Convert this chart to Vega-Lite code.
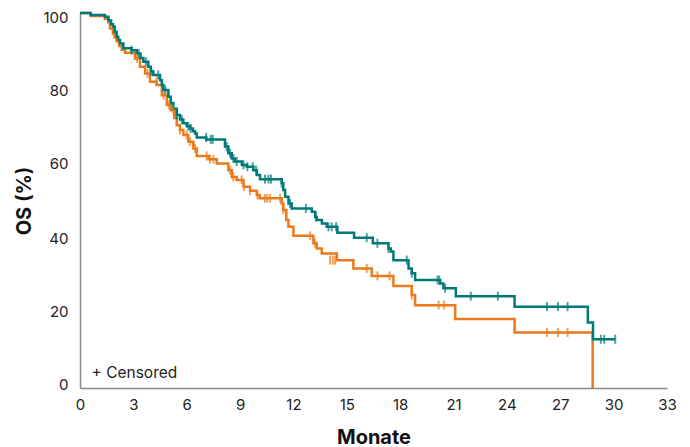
{
  "$schema": "https://vega.github.io/schema/vega-lite/v6.json",
  "width": 587,
  "height": 375,
  "autosize": {"type": "none"},
  "padding": {"left": 80, "top": 13, "right": 23, "bottom": 59},
  "config": {
    "view": {"stroke": null},
    "font": "Inter",
    "axis": {
      "labelFont": "Inter",
      "labelFontSize": 15,
      "labelColor": "#222222",
      "labelFlush": false,
      "titleFont": "Inter",
      "titleFontSize": 20,
      "titleFontWeight": "bold",
      "titleColor": "#111111",
      "ticks": false,
      "grid": false,
      "domainColor": "#888888",
      "domainWidth": 1.5
    }
  },
  "datasets": {
    "curves": [
      {"arm": "orange", "month": 0, "os": 100},
      {"arm": "orange", "month": 0.6, "os": 99.2},
      {"arm": "orange", "month": 1.4, "os": 98.5},
      {"arm": "orange", "month": 1.6, "os": 97.5},
      {"arm": "orange", "month": 1.69, "os": 95.9},
      {"arm": "orange", "month": 1.85, "os": 94.5},
      {"arm": "orange", "month": 1.95, "os": 93.5},
      {"arm": "orange", "month": 2.06, "os": 92.5},
      {"arm": "orange", "month": 2.2, "os": 91.2},
      {"arm": "orange", "month": 2.35, "os": 90.2},
      {"arm": "orange", "month": 2.53, "os": 89.4},
      {"arm": "orange", "month": 3.09, "os": 87.9},
      {"arm": "orange", "month": 3.37, "os": 85.7},
      {"arm": "orange", "month": 3.66, "os": 83.9},
      {"arm": "orange", "month": 3.94, "os": 81.7},
      {"arm": "orange", "month": 4.31, "os": 80.8},
      {"arm": "orange", "month": 4.6, "os": 78.1},
      {"arm": "orange", "month": 4.88, "os": 75.5},
      {"arm": "orange", "month": 5.1, "os": 74.1},
      {"arm": "orange", "month": 5.3, "os": 72},
      {"arm": "orange", "month": 5.44, "os": 70.1},
      {"arm": "orange", "month": 5.62, "os": 68.8},
      {"arm": "orange", "month": 5.81, "os": 67.5},
      {"arm": "orange", "month": 6.09, "os": 65.7},
      {"arm": "orange", "month": 6.37, "os": 63.9},
      {"arm": "orange", "month": 6.56, "os": 61.9},
      {"arm": "orange", "month": 7.22, "os": 61},
      {"arm": "orange", "month": 7.69, "os": 59.9},
      {"arm": "orange", "month": 8.34, "os": 58.1},
      {"arm": "orange", "month": 8.53, "os": 56.3},
      {"arm": "orange", "month": 8.81, "os": 55.5},
      {"arm": "orange", "month": 9.19, "os": 53.7},
      {"arm": "orange", "month": 9.56, "os": 52.6},
      {"arm": "orange", "month": 9.94, "os": 51.5},
      {"arm": "orange", "month": 10.1, "os": 50.6},
      {"arm": "orange", "month": 11.34, "os": 49.2},
      {"arm": "orange", "month": 11.43, "os": 47.5},
      {"arm": "orange", "month": 11.6, "os": 44.8},
      {"arm": "orange", "month": 11.72, "os": 43},
      {"arm": "orange", "month": 12.0, "os": 40.6},
      {"arm": "orange", "month": 13.12, "os": 38.6},
      {"arm": "orange", "month": 13.31, "os": 37.2},
      {"arm": "orange", "month": 13.59, "os": 35.9},
      {"arm": "orange", "month": 14.44, "os": 34.1},
      {"arm": "orange", "month": 15.37, "os": 31.9},
      {"arm": "orange", "month": 16.4, "os": 29.9},
      {"arm": "orange", "month": 17.62, "os": 27.2},
      {"arm": "orange", "month": 18.65, "os": 24.8},
      {"arm": "orange", "month": 18.84, "os": 22.1},
      {"arm": "orange", "month": 21.09, "os": 18.4},
      {"arm": "orange", "month": 24.43, "os": 14.8},
      {"arm": "orange", "month": 28.82, "os": 0},
      {"arm": "teal", "month": 0, "os": 100},
      {"arm": "teal", "month": 0.6, "os": 99.5},
      {"arm": "teal", "month": 1.4, "os": 99},
      {"arm": "teal", "month": 1.6, "os": 98},
      {"arm": "teal", "month": 1.75, "os": 97},
      {"arm": "teal", "month": 1.86, "os": 96.4},
      {"arm": "teal", "month": 1.95, "os": 95},
      {"arm": "teal", "month": 2.06, "os": 93.7},
      {"arm": "teal", "month": 2.15, "os": 92.8},
      {"arm": "teal", "month": 2.25, "os": 91.9},
      {"arm": "teal", "month": 2.44, "os": 90.6},
      {"arm": "teal", "month": 2.9, "os": 90.1},
      {"arm": "teal", "month": 3.19, "os": 89.2},
      {"arm": "teal", "month": 3.4, "os": 88},
      {"arm": "teal", "month": 3.56, "os": 87},
      {"arm": "teal", "month": 3.84, "os": 85.7},
      {"arm": "teal", "month": 3.98, "os": 84.5},
      {"arm": "teal", "month": 4.12, "os": 83.5},
      {"arm": "teal", "month": 4.5, "os": 82.1},
      {"arm": "teal", "month": 4.6, "os": 80.8},
      {"arm": "teal", "month": 4.69, "os": 79.5},
      {"arm": "teal", "month": 4.97, "os": 77.7},
      {"arm": "teal", "month": 5.1, "os": 76},
      {"arm": "teal", "month": 5.25, "os": 74.5},
      {"arm": "teal", "month": 5.44, "os": 72.8},
      {"arm": "teal", "month": 5.62, "os": 71.6},
      {"arm": "teal", "month": 5.81, "os": 70.6},
      {"arm": "teal", "month": 6.0, "os": 69.8},
      {"arm": "teal", "month": 6.19, "os": 69.2},
      {"arm": "teal", "month": 6.35, "os": 68.5},
      {"arm": "teal", "month": 6.47, "os": 67.9},
      {"arm": "teal", "month": 6.56, "os": 66.8},
      {"arm": "teal", "month": 7.1, "os": 66.3},
      {"arm": "teal", "month": 8.15, "os": 64.4},
      {"arm": "teal", "month": 8.34, "os": 62.6},
      {"arm": "teal", "month": 8.53, "os": 61.2},
      {"arm": "teal", "month": 8.7, "os": 60.4},
      {"arm": "teal", "month": 9.1, "os": 59.5},
      {"arm": "teal", "month": 9.38, "os": 59},
      {"arm": "teal", "month": 9.75, "os": 58.1},
      {"arm": "teal", "month": 9.94, "os": 56.8},
      {"arm": "teal", "month": 10.12, "os": 55.7},
      {"arm": "teal", "month": 11.34, "os": 54.6},
      {"arm": "teal", "month": 11.43, "os": 52.8},
      {"arm": "teal", "month": 11.53, "os": 51},
      {"arm": "teal", "month": 11.72, "os": 49.2},
      {"arm": "teal", "month": 11.9, "os": 47.9},
      {"arm": "teal", "month": 13.03, "os": 47},
      {"arm": "teal", "month": 13.22, "os": 45.6},
      {"arm": "teal", "month": 13.31, "os": 44.8},
      {"arm": "teal", "month": 13.6, "os": 43.9},
      {"arm": "teal", "month": 13.87, "os": 43},
      {"arm": "teal", "month": 14.47, "os": 41.4},
      {"arm": "teal", "month": 15.41, "os": 40.1},
      {"arm": "teal", "month": 16.46, "os": 38.6},
      {"arm": "teal", "month": 17.34, "os": 37.2},
      {"arm": "teal", "month": 17.47, "os": 36.4},
      {"arm": "teal", "month": 17.62, "os": 34.1},
      {"arm": "teal", "month": 18.47, "os": 31.9},
      {"arm": "teal", "month": 18.65, "os": 30.6},
      {"arm": "teal", "month": 18.84, "os": 28.8},
      {"arm": "teal", "month": 20.25, "os": 27.9},
      {"arm": "teal", "month": 20.43, "os": 26.6},
      {"arm": "teal", "month": 21.13, "os": 24.5},
      {"arm": "teal", "month": 24.43, "os": 21.7},
      {"arm": "teal", "month": 28.55, "os": 17.5},
      {"arm": "teal", "month": 28.84, "os": 13},
      {"arm": "teal", "month": 30.09, "os": 13}
    ],
    "censored": [
      {"arm": "orange", "month": 3.2, "os": 87.9},
      {"arm": "orange", "month": 3.8, "os": 83.9},
      {"arm": "orange", "month": 4.3, "os": 81.7},
      {"arm": "orange", "month": 4.7, "os": 78.1},
      {"arm": "orange", "month": 5.0, "os": 75.5},
      {"arm": "orange", "month": 5.25, "os": 74.1},
      {"arm": "orange", "month": 5.62, "os": 68.8},
      {"arm": "orange", "month": 6.0, "os": 67.5},
      {"arm": "orange", "month": 6.19, "os": 65.7},
      {"arm": "orange", "month": 6.47, "os": 63.9},
      {"arm": "orange", "month": 7.12, "os": 61.9},
      {"arm": "orange", "month": 7.31, "os": 61},
      {"arm": "orange", "month": 7.5, "os": 61},
      {"arm": "orange", "month": 8.44, "os": 58.1},
      {"arm": "orange", "month": 8.62, "os": 56.3},
      {"arm": "orange", "month": 9.09, "os": 55.5},
      {"arm": "orange", "month": 9.22, "os": 53.7},
      {"arm": "orange", "month": 9.56, "os": 52.6},
      {"arm": "orange", "month": 9.97, "os": 51.5},
      {"arm": "orange", "month": 10.4, "os": 50.6},
      {"arm": "orange", "month": 10.53, "os": 50.6},
      {"arm": "orange", "month": 10.69, "os": 50.6},
      {"arm": "orange", "month": 11.25, "os": 50.6},
      {"arm": "orange", "month": 11.43, "os": 47.5},
      {"arm": "orange", "month": 12.94, "os": 40.6},
      {"arm": "orange", "month": 13.22, "os": 38.6},
      {"arm": "orange", "month": 14.06, "os": 34.1},
      {"arm": "orange", "month": 14.21, "os": 34.1},
      {"arm": "orange", "month": 14.34, "os": 34.1},
      {"arm": "orange", "month": 16.12, "os": 31.9},
      {"arm": "orange", "month": 16.72, "os": 29.9},
      {"arm": "orange", "month": 17.4, "os": 29.9},
      {"arm": "orange", "month": 18.65, "os": 24.8},
      {"arm": "orange", "month": 20.16, "os": 22.1},
      {"arm": "orange", "month": 20.47, "os": 22.1},
      {"arm": "orange", "month": 26.25, "os": 14.8},
      {"arm": "orange", "month": 26.87, "os": 14.8},
      {"arm": "orange", "month": 27.41, "os": 14.8},
      {"arm": "teal", "month": 2.9, "os": 90.1},
      {"arm": "teal", "month": 3.3, "os": 89.2},
      {"arm": "teal", "month": 3.7, "os": 87},
      {"arm": "teal", "month": 4.0, "os": 84.5},
      {"arm": "teal", "month": 4.4, "os": 83.5},
      {"arm": "teal", "month": 4.8, "os": 79.5},
      {"arm": "teal", "month": 5.44, "os": 72.8},
      {"arm": "teal", "month": 5.72, "os": 71.6},
      {"arm": "teal", "month": 6.09, "os": 69.8},
      {"arm": "teal", "month": 6.22, "os": 69.2},
      {"arm": "teal", "month": 7.09, "os": 66.8},
      {"arm": "teal", "month": 7.35, "os": 66.3},
      {"arm": "teal", "month": 7.46, "os": 66.3},
      {"arm": "teal", "month": 8.25, "os": 64.4},
      {"arm": "teal", "month": 8.44, "os": 62.6},
      {"arm": "teal", "month": 8.62, "os": 61.2},
      {"arm": "teal", "month": 8.81, "os": 60.4},
      {"arm": "teal", "month": 9.19, "os": 59.5},
      {"arm": "teal", "month": 9.41, "os": 59},
      {"arm": "teal", "month": 9.71, "os": 59},
      {"arm": "teal", "month": 9.9, "os": 58.1},
      {"arm": "teal", "month": 10.4, "os": 55.7},
      {"arm": "teal", "month": 10.6, "os": 55.7},
      {"arm": "teal", "month": 10.74, "os": 55.7},
      {"arm": "teal", "month": 11.34, "os": 54.6},
      {"arm": "teal", "month": 11.81, "os": 49.2},
      {"arm": "teal", "month": 12.7, "os": 47.9},
      {"arm": "teal", "month": 13.26, "os": 45.6},
      {"arm": "teal", "month": 13.97, "os": 43},
      {"arm": "teal", "month": 14.15, "os": 43},
      {"arm": "teal", "month": 14.4, "os": 43},
      {"arm": "teal", "month": 16.12, "os": 40.1},
      {"arm": "teal", "month": 16.72, "os": 38.6},
      {"arm": "teal", "month": 17.34, "os": 37.2},
      {"arm": "teal", "month": 18.37, "os": 34.1},
      {"arm": "teal", "month": 18.65, "os": 30.6},
      {"arm": "teal", "month": 20.1, "os": 28.8},
      {"arm": "teal", "month": 20.2, "os": 28.8},
      {"arm": "teal", "month": 20.53, "os": 26.6},
      {"arm": "teal", "month": 21.97, "os": 24.5},
      {"arm": "teal", "month": 23.49, "os": 24.5},
      {"arm": "teal", "month": 26.25, "os": 21.7},
      {"arm": "teal", "month": 26.87, "os": 21.7},
      {"arm": "teal", "month": 27.41, "os": 21.7},
      {"arm": "teal", "month": 29.28, "os": 13},
      {"arm": "teal", "month": 29.47, "os": 13},
      {"arm": "teal", "month": 30.09, "os": 13}
    ],
    "note": [{"month": 0.65, "os": 4.0, "label": "+ Censored"}]
  },
  "encoding": {
    "x": {
      "field": "month",
      "type": "quantitative",
      "title": "Monate",
      "scale": {"domain": [0, 33], "nice": false, "zero": true},
      "axis": {"values": [0, 3, 6, 9, 12, 15, 18, 21, 24, 27, 30, 33], "labelPadding": 9, "titlePadding": 15}
    },
    "y": {
      "field": "os",
      "type": "quantitative",
      "title": "OS (%)",
      "scale": {"domain": [0, 100], "nice": false},
      "axis": {
        "values": [0, 20, 40, 60, 80, 100],
        "labelPadding": 12,
        "titlePadding": 8,
        "labelOffset": {
          "condition": [
            {"test": "datum.value == 0", "value": -4},
            {"test": "datum.value == 20", "value": -2},
            {"test": "datum.value == 80", "value": 2},
            {"test": "datum.value == 100", "value": 4}
          ],
          "value": 0
        }
      }
    },
    "color": {
      "field": "arm",
      "type": "nominal",
      "scale": {"domain": ["orange", "teal"], "range": ["#ea7a1b", "#007a78"]},
      "legend": null
    }
  },
  "layer": [
    {
      "data": {"name": "curves"},
      "mark": {"type": "line", "interpolate": "step-after", "strokeWidth": 2.5}
    },
    {
      "data": {"name": "censored"},
      "mark": {"type": "tick", "orient": "vertical", "size": 9, "thickness": 2}
    },
    {
      "data": {"name": "note"},
      "mark": {"type": "text", "align": "left", "baseline": "middle", "fontSize": 15.5, "font": "Inter", "color": "#222222"},
      "encoding": {
        "text": {"field": "label"},
        "color": {"value": "#222222"}
      }
    }
  ]
}
